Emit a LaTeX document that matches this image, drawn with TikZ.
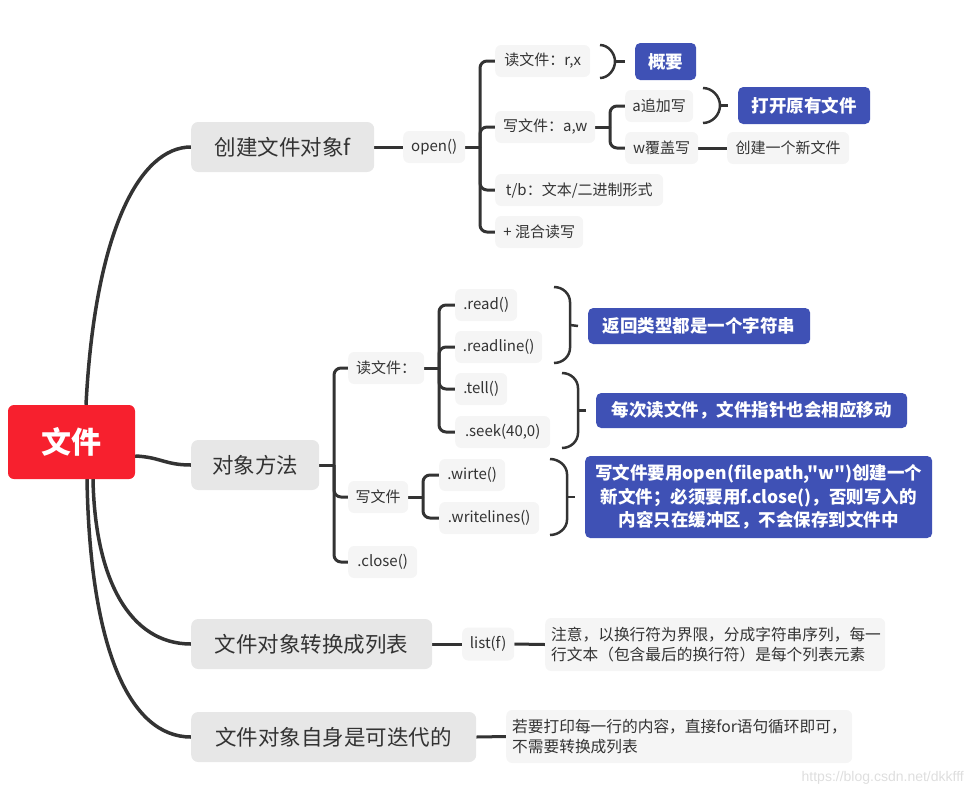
\documentclass[tikz,border=0pt]{standalone}
\usepackage{fontspec}
\setmainfont{Noto Sans CJK SC}
\newfontfamily\qfont{Noto Sans CJK SC}
\newfontfamily\wmfont{Liberation Sans}
\usetikzlibrary{backgrounds}
\definecolor{rootred}{HTML}{F7202E}
\definecolor{lonegrey}{HTML}{E7E7E7}
\definecolor{ltwogrey}{HTML}{F5F5F5}
\definecolor{sumblue}{HTML}{3F51B5}
\definecolor{txt}{HTML}{333333}
\definecolor{linec}{HTML}{333333}
\begin{document}
\begin{tikzpicture}[x=1pt,y=-1pt,
  rootbox/.style={fill=rootred, rounded corners=6pt, text=white, font=\fontsize{30}{36}\selectfont\bfseries, minimum width=127pt, minimum height=74pt, inner sep=0pt},
  lone/.style={fill=lonegrey, rounded corners=7pt, text=txt, font=\fontsize{21.5}{26}\selectfont, minimum height=50pt, inner sep=0pt, anchor=west},
  ltwo/.style={fill=ltwogrey, rounded corners=6pt, text=txt, font=\fontsize{15}{20}\selectfont, minimum height=32pt, inner sep=0pt, anchor=west},
  sumbox/.style={fill=sumblue, rounded corners=5pt, text=white, font=\qfont\fontsize{17.5}{23.5}\selectfont\bfseries, inner sep=0pt, anchor=west, align=center},
  notebox/.style={fill=ltwogrey, rounded corners=6pt, text=txt, font=\fontsize{15.7}{20}\selectfont, inner xsep=6pt, inner ysep=0pt, anchor=west, align=left, minimum height=53pt},
  link/.style={draw=linec, line width=3pt},
  curve/.style={draw=linec, line width=3.5pt},
  brk/.style={draw=linec, line width=2.5pt},
  ]
\useasboundingbox (0,0) rectangle (974,801);

% root
\node[rootbox] (root) at (71.5,442) {文件};

% level 1
\node[lone, minimum width=183pt] (c1) at (191,147) {创建文件对象f};
\node[lone, minimum width=128pt] (c2) at (191,465) {对象方法};
\node[lone, minimum width=241pt] (c3) at (191,644) {文件对象转换成列表};
\node[lone, minimum width=285pt] (c4) at (191,737) {文件对象自身是可迭代的};

% branch 1
\node[ltwo, minimum width=62pt] (open) at (403,147) {open()};
\node[ltwo, minimum width=95pt] (rx) at (495,61) {读文件：r,x};
\node[ltwo, minimum width=100pt] (aw) at (495,127) {写文件：a,w};
\node[ltwo, minimum width=168pt] (tb) at (495,190) {t/b：文本/二进制形式};
\node[ltwo, minimum width=88pt] (mix) at (495,232) {+ 混合读写};
\node[ltwo, minimum width=68pt] (aa) at (625,106) {a追加写};
\node[ltwo, minimum width=73pt] (ww) at (625,148) {w覆盖写};
\node[ltwo, minimum width=122pt] (newf) at (727,148) {创建一个新文件};
\node[sumbox, minimum width=61pt, minimum height=37pt] (gaiyao) at (635,61.5) {概要};
\node[sumbox, minimum width=132pt, minimum height=37pt] (dakai) at (738,105.5) {打开原有文件};

% branch 2
\node[ltwo, minimum width=76pt] (rd) at (348,368) {读文件：};
\node[ltwo, minimum width=60pt] (wr) at (348,497) {写文件};
\node[ltwo, minimum width=69pt] (cl) at (348,562) {.close()};
\node[ltwo, minimum width=62pt] (read) at (455,305) {.read()};
\node[ltwo, minimum width=87pt] (readline) at (455,347) {.readline()};
\node[ltwo, minimum width=52pt] (tell) at (455,389) {.tell()};
\node[ltwo, minimum width=95pt] (seek) at (455,432) {.seek(40,0)};
\node[ltwo, minimum width=66pt] (wirte) at (439,475) {.wirte()};
\node[ltwo, minimum width=100pt] (wlines) at (439,518) {.writelines()};
\node[sumbox, minimum width=222pt, minimum height=36pt] (fanhui) at (588,326) {返回类型都是一个字符串};
\node[sumbox, minimum width=311pt, minimum height=35pt] (meici) at (596,410.5) {每次读文件，文件指针也会相应移动};
\node[sumbox, minimum width=347pt, minimum height=82pt] (xiewj) at (585,497) {写文件要用open(filepath,"w")创建一个\\新文件；必须要用f.close()，否则写入的\\内容只在缓冲区，不会保存到文件中};

% branch 3 and 4
\node[ltwo, minimum width=52pt, minimum height=33pt] (listf) at (462,644) {list(f)};
\node[notebox, text width=328pt] (note1) at (545,644.5) {注意，以换行符为界限，分成字符串序列，每一\\行文本（包含最后的换行符）是每个列表元素};
\node[notebox, text width=334pt] (note2) at (506,736.5) {若要打印每一行的内容，直接for语句循环即可，\\不需要转换成列表};

% watermark
\node[anchor=east, inner sep=0pt, text=black!13, font=\wmfont\fontsize{14}{16}\selectfont] (wm) at (964,778) {https://blog.csdn.net/dkkfff};

\begin{pgfonlayer}{background}
% root curves
\draw[curve] ([xshift=14.5pt]root.north) .. controls (95,230) and (140,147) .. (c1.west);
\draw[curve] ([yshift=-14pt]root.east) .. controls (160,457) and (165,465) .. (c2.west);
\draw[curve] ([xshift=21.5pt]root.south) .. controls (95,580) and (130,644) .. (c3.west);
\draw[curve] ([xshift=15.5pt]root.south) .. controls (90,650) and (130,737) .. (c4.west);

% branch 1
\draw[link] (c1.east) -- (open.west);
\coordinate (openJ) at (480,147);
\draw[link] (open.east) -- (openJ);
\foreach \n in {rx,aw,tb,mix} \draw[link, rounded corners=7pt] (openJ) |- (\n.west);
\coordinate (awJ) at (610,127);
\draw[link] (aw.east) -- (awJ);
\foreach \n in {aa,ww} \draw[link, rounded corners=7pt] (awJ) |- (\n.west);
\draw[link] (ww.east) -- (newf.west);

% branch 2
\coordinate (c2J) at (334,465);
\draw[link] (c2.east) -- (c2J);
\foreach \n in {rd,wr,cl} \draw[link, rounded corners=7pt] (c2J) |- (\n.west);
\coordinate (rdJ) at (439,368);
\draw[link] (rd.east) -- (rdJ);
\foreach \n in {read,readline,tell,seek} \draw[link, rounded corners=7pt] (rdJ) |- (\n.west);
\coordinate (wrJ) at (423,497);
\draw[link] (wr.east) -- (wrJ);
\foreach \n in {wirte,wlines} \draw[link, rounded corners=7pt] (wrJ) |- (\n.west);

% branch 3, 4
\draw[link] (c3.east) -- (listf.west);
\draw[link] (listf.east) -- (note1.west);
\draw[link] (c4.east) -- (note2.west);
\end{pgfonlayer}

% summary brackets
\draw[brk] (600,45) .. controls (608,45) and (615,53) .. (615,61.5) .. controls (615,70) and (608,78) .. (600,78);
\draw[brk] (615,61.5) -- ([xshift=-10pt]gaiyao.west);
\draw[brk] (703,88) .. controls (712,88) and (720,96) .. (720,105.5) .. controls (720,115) and (712,123) .. (703,123);
\draw[brk] (720,105.5) -- ([xshift=-10pt]dakai.west);
\draw[brk] (554,287) .. controls (563,287) and (570,294) .. (570,302) -- (570,348) .. controls (570,356) and (563,363) .. (554,363);
\draw[brk] (570,325) -- ([xshift=-10pt]fanhui.west);
\draw[brk] (562,373) .. controls (571,373) and (578,380) .. (578,388) -- (578,433) .. controls (578,441) and (571,448) .. (562,448);
\draw[brk] (578,410.5) -- ([xshift=-10pt]meici.west);
\draw[brk] (550,459) .. controls (559,459) and (567,466) .. (567,474) -- (567,520) .. controls (567,528) and (559,535) .. (550,535);
\draw[brk] (567,497) -- ([xshift=-10pt]xiewj.west);
\end{tikzpicture}
\end{document}
